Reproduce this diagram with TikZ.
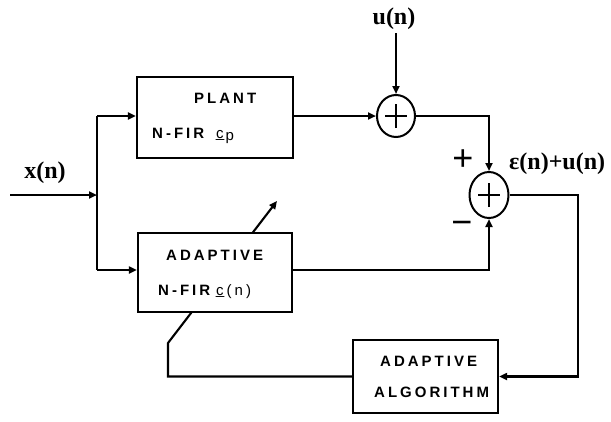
\documentclass[tikz,border=0pt]{standalone}
\usepackage{fontspec}
\setmainfont{Liberation Serif}
\newfontfamily\boxfont{Liberation Sans}[LetterSpace=20]
\newfontfamily\signfont{Liberation Sans}
\usetikzlibrary{arrows.meta,shapes.geometric,backgrounds}
\tikzset{
  wire/.style={line width=2.1pt,line join=miter},
  arr/.style={wire,-{Triangle[length=8pt,width=7pt]}},
  blk/.style={draw,line width=2.3pt,fill=white,rectangle,inner sep=0pt},
  sumj/.style={draw,line width=2pt,ellipse,inner sep=0pt,fill=white},
  btxt/.style={inner sep=0pt,anchor=base west,font=\boxfont\bfseries\fontsize{15}{17}\selectfont},
  lbl/.style={inner sep=0pt,anchor=base,font=\bfseries\fontsize{24}{26}\selectfont},
  sign/.style={inner sep=0pt,font=\signfont\fontsize{36}{38}\selectfont}
}
\begin{document}
\begin{tikzpicture}[x=1pt,y=-1pt]
\useasboundingbox (0,0) rectangle (611,421);
% blocks
\node[blk,minimum width=156pt,minimum height=81pt] (plant) at (215,117.5) {};
\node[blk,minimum width=154pt,minimum height=79pt] (adapt) at (215,272.5) {};
\node[blk,minimum width=145pt,minimum height=73pt] (alg) at (425.5,376.5) {};
% summing junctions
\node[sumj,minimum width=38pt,minimum height=42pt] (s1) at (396,116) {};
\node[sumj,minimum width=39pt,minimum height=46pt] (s2) at (489,195) {};
\foreach \s in {s1,s2}{
  \draw[line width=1.8pt] ([xshift=-11pt]\s.center) -- ([xshift=11pt]\s.center);
  \draw[line width=1.8pt] ([yshift=-12pt]\s.center) -- ([yshift=12pt]\s.center);
}
% block texts
\node[btxt] (tplant) at (194,103) {PLANT};
\node[btxt] (tnfir1) at (152,138) {N-FIR\hspace{12pt}{\mdseries\b{c}\hspace{2pt}\raisebox{-2pt}{p}}};
\node[btxt] (tadapt) at (166,260) {ADAPTIVE};
\node[btxt] (tnfir2) at (158,295) {N-FIR\hspace{6pt}{\mdseries\b{c}(n)}};
\node[btxt] (talg1) at (380,366) {ADAPTIVE};
\node[btxt] (talg2) at (374,397) {ALGORITHM};
% labels
\node[lbl] (lx) at (45,178) {x(n)};
\node[lbl] (lu) at (394,24) {u(n)};
\node[lbl,anchor=base west] (le) at (509,169) {ε(n)+u(n)};
\node[sign] (plus) at (463,160) {+};
\node[sign] (minus) at (462,228) {−};
% coordinates
\coordinate (xin) at (10,195);
\coordinate (jx) at (97,195);
\coordinate (ja) at (97,116);
\coordinate (jb) at (97,270);
\coordinate (utop) at (396,33);
\coordinate (cr) at (578,195);
\coordinate (fb1) at (168,343);
\coordinate (tip) at (277,201);
% connectors
\draw[arr] (xin) -- (jx);
\draw[wire] (ja) -- (jb);
\draw[arr] (ja) -- (ja -| plant.west);
\draw[arr] (jb) -- (jb -| adapt.west);
\draw[arr] (plant.east |- s1.west) -- (s1.west);
\draw[arr] (utop) -- (s1.north);
\draw[arr] (s1.east) -| (s2.north);
\draw[arr] (adapt.east |- jb) -| (s2.south);
\draw[arr] (s2.east) -- (cr) |- (alg.east);
\begin{pgfonlayer}{background}
\draw[arr] (alg.west) -| (fb1) -- (tip);
\end{pgfonlayer}
\end{tikzpicture}
\end{document}
